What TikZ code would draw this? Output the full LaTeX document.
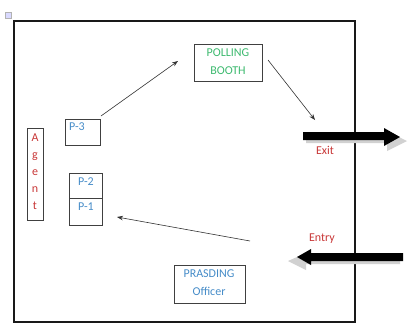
\documentclass[tikz,border=0pt]{standalone}
\usepackage{fontspec}
\setmainfont{Carlito}
\usetikzlibrary{arrows.meta}
\definecolor{boothgreen}{RGB}{60,185,110}
\definecolor{pblue}{RGB}{70,140,200}
\definecolor{agred}{RGB}{200,55,55}
\begin{document}
\begin{tikzpicture}[x=1pt,y=-1pt,
  box/.style={draw=black!75,line width=0.6pt,inner sep=0pt},
  lbl/.style={font=\fontsize{12}{18}\selectfont,align=center,inner sep=0pt},
  conn/.style={draw=black!80,line width=0.6pt,-{Stealth[length=6pt,width=4.5pt]}}]
\useasboundingbox (0,0) rectangle (409,327);
% small handle icon
\node[draw=black!30,fill=blue!15,minimum size=6pt,inner sep=0pt] (handle) at (8,15) {};
% outer frame
\draw[line width=1.6pt,draw=black!90] (14,21) rectangle (355,322);
% nodes
\node[box,minimum width=68pt,minimum height=37pt] (booth) at (228,62.5) {};
\node[lbl,text=boothgreen] (boothtxt) at (228,62) {POLLING\\BOOTH};
\node[box,minimum width=35pt,minimum height=26pt] (p3) at (82.5,132) {};
\node[lbl,text=pblue,anchor=west] (p3txt) at (69,127) {P-3};
\node[box,minimum width=16pt,minimum height=92pt] (agent) at (35,174) {};
\node[lbl,text=agred,font=\fontsize{12}{17}\selectfont] (agenttxt) at (35,172) {A\\g\\e\\n\\t};
\node[box,minimum width=33pt,minimum height=25pt] (p2) at (85.5,185.5) {};
\node[lbl,text=pblue] (p2txt) at (86,182) {P-2};
\node[box,minimum width=33pt,minimum height=27pt] (p1) at (85.5,211.5) {};
\node[lbl,text=pblue] (p1txt) at (86,207) {P-1};
\node[box,minimum width=71pt,minimum height=38pt] (officer) at (209.5,284) {};
\node[lbl,text=pblue] (officertxt) at (209,283) {PRASDING\\Officer};
\node[lbl,text=agred] (exittxt) at (325,150) {Exit};
\node[lbl,text=agred] (entrytxt) at (322,239) {Entry};
% fat arrows
\fill[black!18] (306,136) -- (387,136) -- (387,131) -- (407,141) -- (387,151) -- (387,143) -- (306,143) -- cycle;
\fill[black] (303,132) -- (384,132) -- (384,128) -- (400,137) -- (384,146) -- (384,140) -- (303,140) -- cycle;
\coordinate (exitarrow) at (303,136);
\fill[black!18] (400,257) -- (306,257) -- (306,253) -- (288,261) -- (306,270) -- (306,264) -- (400,264) -- cycle;
\fill[black] (403,253) -- (311,253) -- (311,249) -- (297,257) -- (311,265) -- (311,261) -- (403,261) -- cycle;
\coordinate (entryarrow) at (403,257);
% connectors
\coordinate (c1) at (101,116);
\coordinate (c2) at (178,61);
\coordinate (c3) at (268,60);
\coordinate (c4) at (315,120);
\coordinate (c5) at (250,241);
\coordinate (c6) at (117,217);
\draw[conn] (c1) -- (c2);
\draw[conn] (c3) -- (c4);
\draw[conn] (c5) -- (c6);
\end{tikzpicture}
\end{document}
